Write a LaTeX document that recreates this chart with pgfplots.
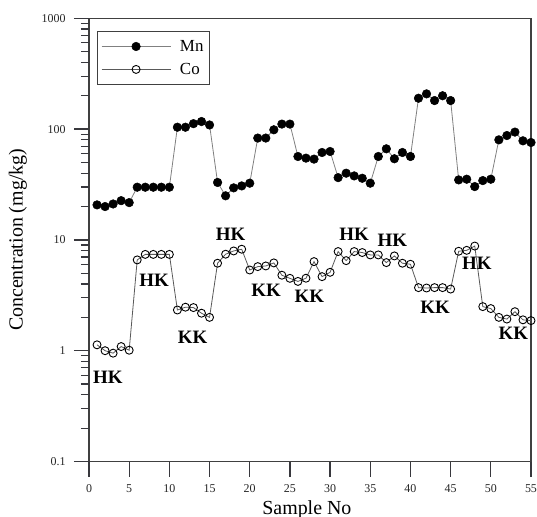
\documentclass[border=0pt]{standalone}
\usepackage{pgfplots}
\pgfplotsset{compat=1.18}
\usepackage{fontspec}
\setmainfont{Liberation Serif}
\definecolor{tickc}{rgb}{0.22,0.22,0.24}

% Mn and Co concentrations, sample 1..55
\pgfplotstableread{
x mn co
1 20.7 1.13
2 20.0 1.00
3 21.1 0.95
4 22.6 1.09
5 21.7 1.01
6 29.9 6.6
7 29.9 7.4
8 29.9 7.4
9 29.9 7.4
10 29.9 7.4
11 104 2.33
12 104 2.47
13 112 2.45
14 117 2.18
15 109 2.00
16 33.0 6.16
17 25.0 7.43
18 29.5 7.95
19 30.7 8.24
20 32.5 5.35
21 83.0 5.74
22 83.0 5.82
23 98.6 6.20
24 111 4.80
25 111 4.50
26 56.6 4.22
27 54.7 4.51
28 53.6 6.37
29 61.5 4.66
30 62.8 5.10
31 36.5 7.85
32 40.0 6.50
33 37.8 7.85
34 36.0 7.69
35 32.5 7.32
36 56.6 7.32
37 66.4 6.24
38 54.0 7.17
39 61.5 6.16
40 56.6 6.03
41 190 3.71
42 208 3.68
43 181 3.71
44 200 3.71
45 181 3.60
46 34.8 7.90
47 35.3 8.05
48 30.3 8.80
49 34.3 2.50
50 35.3 2.40
51 80.0 2.00
52 87.5 1.93
53 94.0 2.25
54 78.4 1.90
55 75.7 1.87
}\datatable

\begin{document}
\begin{tikzpicture}
\begin{axis}[
    name=ax,
    width=442bp, height=443.2bp, scale only axis,
    xmin=0, xmax=55, ymin=0.1, ymax=1000, ymode=log,
    xtick={0,5,...,55},
    ytick={0.1,1,10,100,1000},
    yticklabels={0.1,1,10,100,1000},
    tick pos=left,
    tick align=outside,
    major tick length=15bp, minor tick length=8bp,
    axis line style={black!75, line width=1.2bp},
    major tick style={draw=tickc, line width=1.2bp},
    minor tick style={draw=tickc, line width=1.2bp},
    tick label style={font=\fontsize{12}{14}\selectfont, black!85},
    xticklabel style={yshift=-5bp},
    yticklabel style={xshift=-5bp},
    /pgf/number format/assume math mode=true,
    xlabel={Sample No},
    ylabel={Concentration (mg/kg)},
    xlabel style={font=\fontsize{20}{24}\selectfont, at={(axis description cs:0.493,-0.1185)}, anchor=base},
    ylabel style={font=\fontsize{20}{24}\selectfont, at={(axis description cs:-0.161,0.5)}, anchor=center},
    legend style={at={(axis description cs:0.0174,0.972)}, anchor=north west,
        draw=black!75, line width=1bp, font=\fontsize{17}{20}\selectfont,
        inner xsep=4bp, inner ysep=7bp, row sep=6.3bp, cells={anchor=west},
        /tikz/every odd column/.append style={column sep=7bp}},
    legend image code/.code={\draw[mark repeat=2,mark phase=2] plot coordinates {(0bp,0bp) (34.5bp,0bp) (69bp,0bp)};},
]
\addplot[gray, line width=0.8bp, mark=*, mark size=4.3bp, mark options={fill=black, draw=black, line width=0.5bp}]
    table[x=x, y=mn] {\datatable};
\addlegendentry{Mn}
\addplot[black!65, line width=0.8bp, mark=o, mark size=4bp, mark options={fill=white, draw=black, line width=0.9bp}]
    table[x=x, y=co] {\datatable};
\addlegendentry{Co}

\begin{scope}[every node/.style={font=\bfseries\fontsize{19}{22}\selectfont}]
\node at (axis cs:2.36,0.578) {HK};
\node at (axis cs:8.09,4.35) {HK};
\node at (axis cs:12.9,1.32) {KK};
\node at (axis cs:17.63,11.26) {HK};
\node at (axis cs:22.03,3.53) {KK};
\node at (axis cs:27.41,3.09) {KK};
\node at (axis cs:33.0,11.26) {HK};
\node at (axis cs:37.74,9.86) {HK};
\node at (axis cs:43.06,2.47) {KK};
\node at (axis cs:48.25,6.16) {HK};
\node at (axis cs:52.8,1.44) {KK};
\end{scope}
\end{axis}
% outward ticks, drawn again along the axis frame
\begin{scope}[shift={(ax.south west)}, tickc, line width=1.2bp]
\foreach \i in {0,...,11} \draw (\i*40.1818bp,0bp) -- (\i*40.1818bp,-15bp);
\foreach \d in {0,...,4} \draw (0bp,\d*110.8bp) -- (-15bp,\d*110.8bp);
\foreach \d in {0,...,3} {
  \foreach \m in {2,...,9} {
    \pgfmathsetmacro\yy{(\d+log10(\m))*110.8}
    \draw (0bp,\yy bp) -- (-8bp,\yy bp);
  }
}
\end{scope}
\pgfresetboundingbox
\path (ax.south west) ++(-89bp,-55.5bp) rectangle ++(537bp,517bp);
\end{tikzpicture}
\end{document}
